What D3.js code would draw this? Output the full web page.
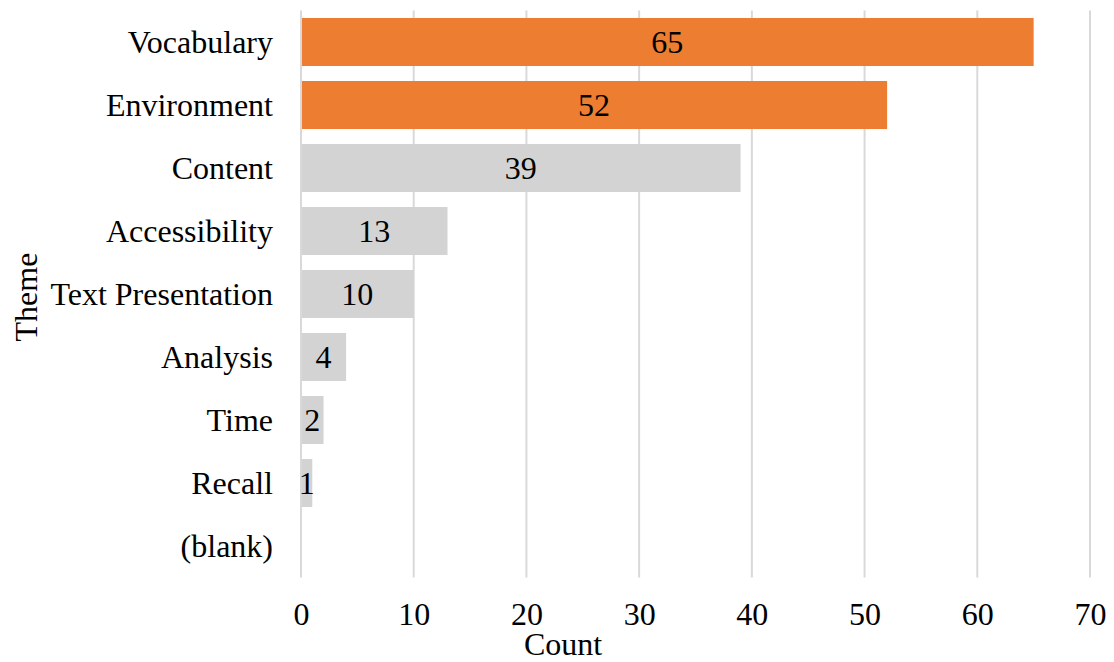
<!DOCTYPE html>
<html><head><meta charset="utf-8">
<script src="https://cdn.jsdelivr.net/npm/d3@7"></script>
<style>body{margin:0;background:#fff}svg{display:block}text{font-family:"Liberation Serif","Times New Roman",serif;fill:#000}</style>
</head><body><svg id="c" width="1114" height="662"></svg>
<script>
const categories = ["Vocabulary","Environment","Content","Accessibility","Text Presentation","Analysis","Time","Recall","(blank)"];
const counts = [65,52,39,13,10,4,2,1,null];
const highlighted = ["Vocabulary","Environment"];
const xTicks = [0,10,20,30,40,50,60,70];

const svg = d3.select("#c");
const m = {left:301, right:1090, top:10.5, bottom:577.5};
const x = d3.scaleLinear().domain([0,70]).range([m.left, m.right]);
const y = d3.scaleBand().domain(categories).range([m.top, m.bottom]).paddingInner(0.238).paddingOuter(0.119);
const fs = 32;

svg.append("g").selectAll("line").data(xTicks).join("line")
  .attr("x1", d=>x(d)).attr("x2", d=>x(d)).attr("y1", m.top).attr("y2", m.bottom)
  .attr("stroke", "#d9d9d9").attr("stroke-width", 2);

const data = categories.map((c,i)=>({c, v: counts[i]})).filter(d=>d.v!=null);
svg.append("g").selectAll("rect").data(data).join("rect")
  .attr("x", x(0)+1).attr("y", d=>y(d.c)).attr("height", y.bandwidth())
  .attr("width", d=>x(d.v)-x(0)-1)
  .attr("fill", d=>highlighted.includes(d.c) ? "#ED7D31" : "#D3D3D3");

svg.append("g").selectAll("text").data(data).join("text")
  .attr("x", d=>(x(0)+x(d.v))/2).attr("y", d=>y(d.c)+y.bandwidth()/2)
  .attr("dy", "0.33em").attr("text-anchor","middle").attr("font-size", fs)
  .text(d=>d.v);

const yAxis = d3.axisLeft(y).tickSize(0).tickPadding(28);
const gy = svg.append("g").attr("transform", `translate(${m.left},0)`).call(yAxis);
gy.select(".domain").remove();
gy.selectAll("text").attr("font-size", fs).attr("font-family", null).attr("fill","#000").attr("dy","0.33em");

const xAxis = d3.axisBottom(x).tickValues(xTicks).tickSize(0).tickPadding(0);
const gx = svg.append("g").attr("transform", `translate(0,${m.bottom})`).call(xAxis);
gx.select(".domain").remove();
gx.selectAll("text").attr("font-size", fs).attr("font-family", null).attr("fill","#000")
  .attr("y", 625 - m.bottom).attr("dy", null);

svg.append("text").attr("x", 563).attr("y", 655).attr("text-anchor","middle").attr("font-size", fs).text("Count");
svg.append("text").attr("transform","translate(37,297) rotate(-90)").attr("text-anchor","middle").attr("font-size", fs).text("Theme");
</script></body></html>
